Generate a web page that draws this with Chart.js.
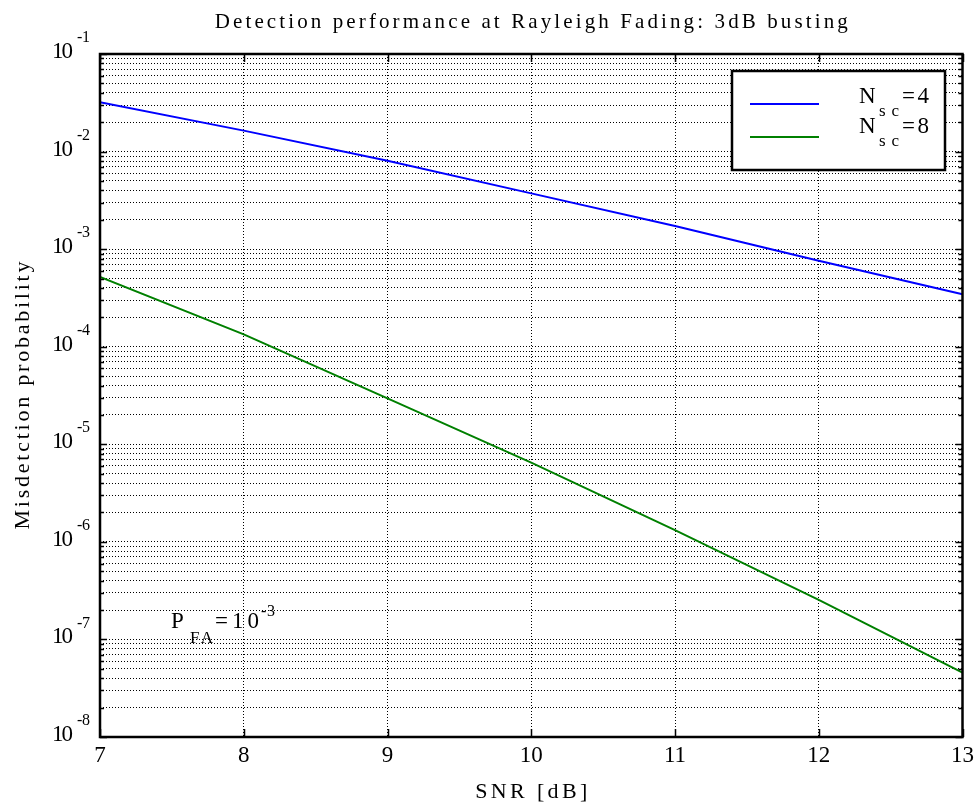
<!DOCTYPE html>
<html>
<head>
<meta charset="utf-8">
<script src="https://cdn.jsdelivr.net/npm/chart.js@4/dist/chart.umd.min.js"></script>
<style>
  html, body { margin: 0; padding: 0; background: #fff; }
  #wrap { width: 979px; height: 806px; }
</style>
</head>
<body>
<div id="wrap"><canvas id="detChart" width="979" height="806"></canvas></div>
<script>
// values
const snrDb = [7, 8, 9, 10, 11, 12, 13];
const missNsc4 = [3.2e-2, 1.64e-2, 8.05e-3, 3.73e-3, 1.73e-3, 7.6e-4, 3.45e-4];
const missNsc8 = [5.2e-4, 1.34e-4, 2.96e-5, 6.5e-6, 1.32e-6, 2.54e-7, 4.56e-8];
const nscValues = ['4', '8'];
const seriesColors = ['#0000ff', '#008000'];
const xTickValues = [7, 8, 9, 10, 11, 12, 13];
const yDecadeExps = [-8, -7, -6, -5, -4, -3, -2, -1];

const titleText = 'Detection performance at Rayleigh Fading: 3dB busting';
const xLabelText = 'SNR [dB]';
const yLabelText = 'Misdetction probability';

const SERIF = '"Liberation Serif", "Times New Roman", serif';

// every log gridline: 1..9 x 10^e
const yTickValues = [];
yDecadeExps.forEach(function (e) {
    if (e === -1) { yTickValues.push(Math.pow(10, e)); return; }
    for (let m = 1; m <= 9; m++) yTickValues.push(m * Math.pow(10, e));
});

function toPoints(xs, ys) { return xs.map(function (x, i) { return { x: x, y: ys[i] }; }); }

// text with stretched letter spacing (the original uses wide printer spacing)
function spacedText(ctx, text, x, y, width, align) {
    ctx.save();
    ctx.letterSpacing = '0px';
    const w0 = ctx.measureText(text).width;
    const sp = width ? (width - w0) / Math.max(1, text.length - 1) : 0;
    ctx.letterSpacing = sp + 'px';
    const w = w0 + sp * (text.length - 1);
    let left = x;
    if (align === 'center') left = x - w / 2;
    else if (align === 'right') left = x - w;
    ctx.textAlign = 'left';
    ctx.fillText(text, left, y);
    ctx.restore();
    return left + w;
}

const decorPlugin = {
    id: 'decor',
    afterDatasetsDraw: function (chart) {
        const ctx = chart.ctx;
        const a = chart.chartArea;
        const xs = chart.scales.x, ys = chart.scales.y;
        ctx.save();
        ctx.fillStyle = '#000';
        ctx.strokeStyle = '#000';

        // inner tick marks
        ctx.lineWidth = 1.5;
        ctx.beginPath();
        yTickValues.forEach(function (v) {
            const py = Math.round(ys.getPixelForValue(v)) + 0.5;
            const major = Math.abs(Math.log10(v) - Math.round(Math.log10(v))) < 1e-9;
            const len = major ? 7 : 4;
            ctx.moveTo(a.left, py); ctx.lineTo(a.left + len, py);
            ctx.moveTo(a.right, py); ctx.lineTo(a.right - len, py);
        });
        xTickValues.forEach(function (v) {
            const px = Math.round(xs.getPixelForValue(v)) + 0.5;
            ctx.moveTo(px, a.bottom); ctx.lineTo(px, a.bottom - 8);
            ctx.moveTo(px, a.top); ctx.lineTo(px, a.top + 8);
        });
        ctx.stroke();

        // axes box
        ctx.lineWidth = 2.5;
        ctx.strokeRect(a.left, a.top, a.right - a.left, a.bottom - a.top);

        // y tick labels 10^e
        ctx.textBaseline = 'middle';
        yDecadeExps.forEach(function (e) {
            const py = ys.getPixelForValue(Math.pow(10, e));
            ctx.font = '23px ' + SERIF;
            spacedText(ctx, '10', a.left - 27, py - 2, 21, 'right');
            ctx.font = '16px ' + SERIF;
            spacedText(ctx, '-' + Math.abs(e), a.left - 23, py - 16, 13, 'left');
        });

        // title and axis labels
        ctx.textBaseline = 'alphabetic';
        ctx.font = '21px ' + SERIF;
        spacedText(ctx, titleText, (a.left + a.right) / 2, 28, 633, 'center');
        ctx.font = '22px ' + SERIF;
        spacedText(ctx, xLabelText, (a.left + a.right) / 2, 798, 112, 'center');
        ctx.save();
        ctx.translate(29, (a.top + a.bottom) / 2);
        ctx.rotate(-Math.PI / 2);
        spacedText(ctx, yLabelText, 0, 0, 268, 'center');
        ctx.restore();

        // P_FA annotation
        ctx.font = '23px ' + SERIF;
        spacedText(ctx, 'P', 171, 628, 0, 'left');
        ctx.font = '17px ' + SERIF;
        spacedText(ctx, 'FA', 190, 643, 23, 'left');
        ctx.font = '23px ' + SERIF;
        const cx = spacedText(ctx, '=10', 215, 628, 44, 'left');
        ctx.font = '16px ' + SERIF;
        spacedText(ctx, '-3', cx + 2, 616, 14, 'left');

        // legend
        const lx = 732, ly = 71, lw = 213, lh = 99;
        ctx.fillStyle = '#fff';
        ctx.fillRect(lx, ly, lw, lh);
        ctx.lineWidth = 2.5;
        ctx.strokeStyle = '#000';
        ctx.strokeRect(lx, ly, lw, lh);
        const rows = [104, 137];
        const textBase = [103, 133];
        nscValues.forEach(function (n, i) {
            ctx.strokeStyle = seriesColors[i];
            ctx.lineWidth = 2;
            ctx.beginPath();
            ctx.moveTo(750, rows[i]); ctx.lineTo(819, rows[i]);
            ctx.stroke();
            ctx.fillStyle = '#000';
            ctx.font = '23px ' + SERIF;
            spacedText(ctx, 'N', 859, textBase[i], 0, 'left');
            ctx.font = '17px ' + SERIF;
            spacedText(ctx, 'sc', 879, textBase[i] + 13, 20, 'left');
            ctx.font = '23px ' + SERIF;
            spacedText(ctx, '=' + n, 902, textBase[i], 27, 'left');
        });
        ctx.restore();
    }
};

new Chart(document.getElementById('detChart'), {
    type: 'line',
    data: {
        datasets: [
            { label: 'Nsc=' + nscValues[0], data: toPoints(snrDb, missNsc4), borderColor: seriesColors[0], borderWidth: 2, pointRadius: 0, tension: 0, fill: false },
            { label: 'Nsc=' + nscValues[1], data: toPoints(snrDb, missNsc8), borderColor: seriesColors[1], borderWidth: 2, pointRadius: 0, tension: 0, fill: false }
        ]
    },
    options: {
        responsive: false,
        animation: false,
        events: [],
        layout: { padding: { top: 54, right: 12, left: 0, bottom: 0 } },
        plugins: { legend: { display: false }, title: { display: false }, tooltip: { enabled: false } },
        scales: {
            x: {
                type: 'linear',
                min: 7, max: 13,
                afterBuildTicks: function (s) { s.ticks = xTickValues.map(function (v) { return { value: v }; }); },
                afterFit: function (s) { s.height = 69; },
                grid: { color: '#000', lineWidth: 1, drawTicks: false },
                border: { display: false, dash: [1, 2] },
                ticks: { color: '#000', padding: 5, font: { family: SERIF, size: 23 }, maxRotation: 0, autoSkip: false }
            },
            y: {
                type: 'logarithmic',
                min: 1e-8, max: 1e-1,
                afterBuildTicks: function (s) { s.ticks = yTickValues.map(function (v) { return { value: v }; }); },
                afterFit: function (s) { s.width = 100; },
                grid: { color: '#000', lineWidth: 1, drawTicks: false },
                border: { display: false, dash: [1, 2] },
                ticks: { display: false, autoSkip: false }
            }
        }
    },
    plugins: [decorPlugin]
});
</script>
</body>
</html>
